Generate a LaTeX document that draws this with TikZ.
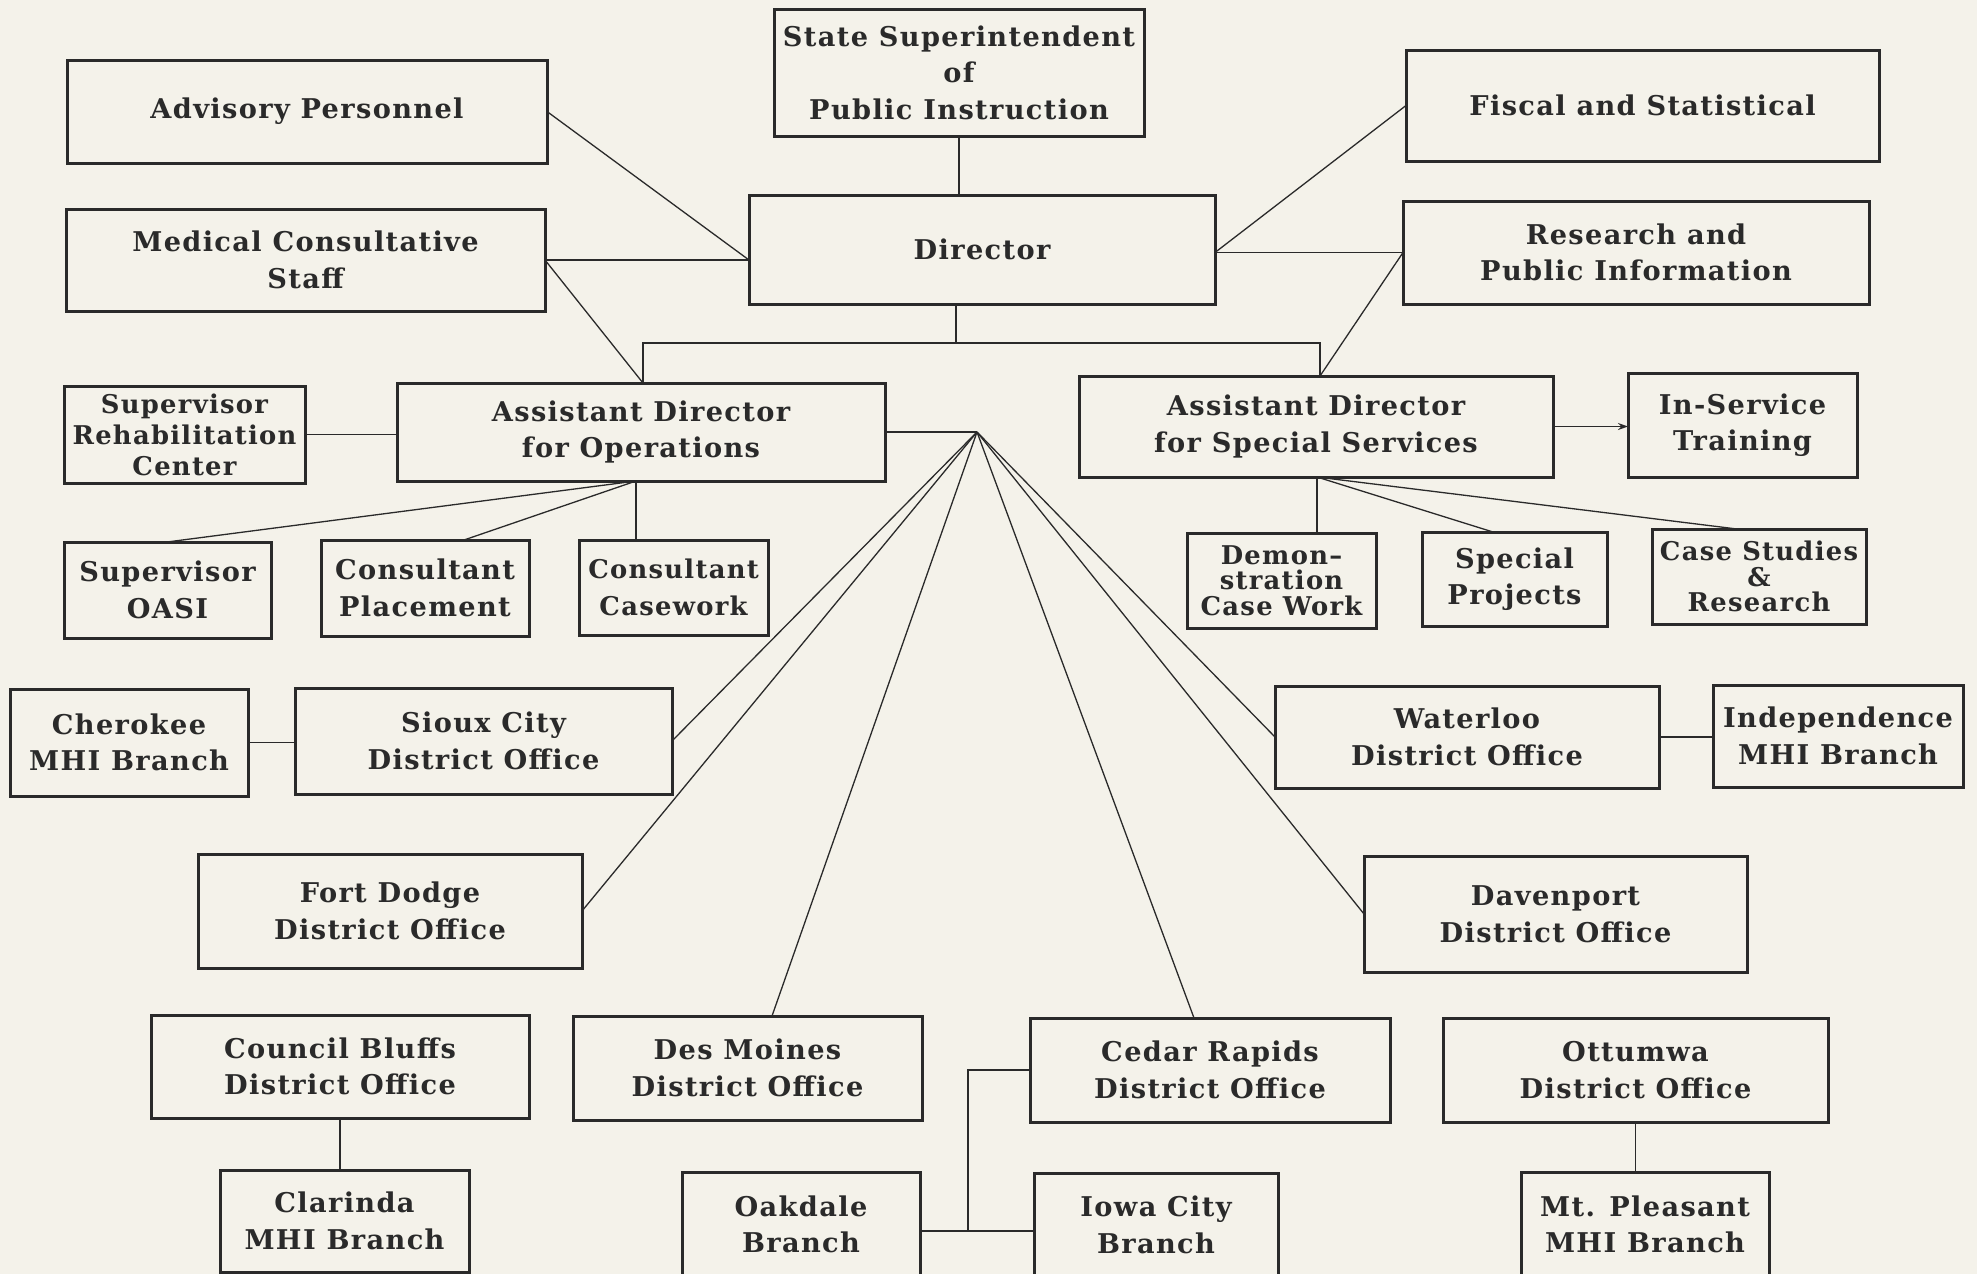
\documentclass[tikz,border=0pt]{standalone}
\usepackage{fontspec}
\setmainfont{DejaVu Serif}[LetterSpace=5]
\usetikzlibrary{arrows.meta}

\definecolor{paper}{HTML}{F4F2EA}
\definecolor{ink}{HTML}{2A2A2A}

\tikzset{
  obox/.style={draw=ink, line width=1.5pt, inner sep=0pt, outer sep=0pt,
    align=center, text=ink, font=\bfseries\fontsize{13.6}{18.3}\selectfont},
  link/.style={draw=ink, line width=0.65pt},
  tight/.style={font=\bfseries\fontsize{12.9}{15.5}\selectfont},
  tighter/.style={font=\bfseries\fontsize{12.9}{12.8}\selectfont},
}

% \obox[style]{name}{x1}{y1}{x2}{y2}{text}: a box given by its corners
\newcommand{\obox}[7][]{%
  \pgfmathsetmacro{\oboxw}{(#5-#3)*0.5}%
  \pgfmathsetmacro{\oboxh}{(#6-#4)*0.5}%
  \node[obox,#1,minimum width=\oboxw pt,minimum height=\oboxh pt]
    (#2) at ({(#3+#5)/2},{(#4+#6)/2}) {#7};}

\begin{document}
\begin{tikzpicture}[x=0.5pt,y=-0.5pt]
\path[use as bounding box, fill=paper] (0,0) rectangle (1977,1274);
\begin{scope}
\clip (0,0) rectangle (1977,1274);

% top level
\obox{ss}{774}{9}{1144}{136}{State Superintendent\\of\\Public Instruction}
\obox{adv}{67}{60}{547}{163}{Advisory Personnel}
\obox{med}{66}{209}{545}{311}{Medical Consultative\\Staff}
\obox{dir}{749}{195}{1215}{304}{Director}
\obox{fis}{1406}{50}{1879}{161}{Fiscal and Statistical}
\obox{res}{1403}{201}{1869}{304}{Research and\\Public Information}

% assistant directors and staff
\obox[tight]{rehab}{64}{386}{305}{483}{Supervisor\\Rehabilitation\\Center}
\obox{ops}{397}{383}{885}{481}{Assistant Director\\for Operations}
\obox{spec}{1079}{376}{1553}{477}{Assistant Director\\for Special Services}
\obox{insv}{1628}{373}{1857}{477}{In-Service\\Training}
\obox{oasi}{64}{542}{271}{638}{Supervisor\\OASI}
\obox{place}{321}{540}{529}{636}{Consultant\\Placement}
\obox[tight]{casew}{579}{540}{768}{635}{Consultant\\[2.8pt]Casework}
\obox[tighter]{demo}{1187}{533}{1376}{628}{Demon–\\stration\\Case Work}
\obox{proj}{1422}{532}{1607}{626}{Special\\Projects}
\obox[tighter]{cases}{1652}{529}{1866}{624}{Case Studies\\\&\\Research}

% district offices and branches
\obox{cher}{10}{689}{248}{796}{Cherokee\\MHI Branch}
\obox{sioux}{295}{688}{672}{794}{Sioux City\\District Office}
\obox{water}{1275}{686}{1659}{788}{Waterloo\\District Office}
\obox{indep}{1713}{685}{1963}{787}{Independence\\MHI Branch}
\obox{fort}{198}{854}{582}{968}{Fort Dodge\\District Office}
\obox{dav}{1364}{856}{1747}{972}{Davenport\\District Office}
\obox{cb}{151}{1015}{529}{1118}{Council Bluffs\\District Office}
\obox{dm}{573}{1016}{922}{1120}{Des Moines\\District Office}
\obox{cr}{1030}{1018}{1390}{1122}{Cedar Rapids\\District Office}
\obox{ott}{1443}{1018}{1828}{1122}{Ottumwa\\District Office}
\obox{clar}{220}{1170}{469}{1272}{Clarinda\\MHI Branch}
\obox{oak}{682}{1172}{920}{1277}{Oakdale\\Branch}
\obox{iowa}{1034}{1173}{1278}{1277}{Iowa City\\Branch}
\obox{mtp}{1521}{1172}{1769}{1277}{Mt. Pleasant\\MHI Branch}

% junction points
\coordinate (dirW) at (dir.west |- med.east);
\coordinate (dirE) at (dir.east |- res.west);
\coordinate (busL) at (643,343);
\coordinate (busM) at (956,343);
\coordinate (busR) at (1320,343);
\coordinate (opsB) at (636,481);
\coordinate (specB) at (1317,477);
\coordinate (hub) at (977,432);
\coordinate (crj) at (968,1231);

% chain of command at the top
\draw[link] (ss.south) -- (ss.south |- dir.north);
\draw[link] (adv.east) -- (dirW);
\draw[link] (med.east) -- (dirW);
\draw[link] (med.east) -- (busL |- ops.north);
\draw[link] (fis.west) -- (dirE);
\draw[link] (dirE) -- (res.west);
\draw[link] (res.west) -- (busR |- spec.north);
\draw[link] (busM |- dir.south) -- (busM);
\draw[link] (busL |- ops.north) -- (busL) -- (busR) -- (busR |- spec.north);

% staff under the assistant directors
\draw[link] (rehab.east) -- (rehab.east -| ops.west);
\draw[link] (opsB) -- (oasi.north -| 167,0);
\draw[link] (opsB) -- (place.north -| 464,0);
\draw[link] (opsB) -- (opsB |- casew.north);
\draw[link,-{Stealth[length=5pt,width=3.5pt]}] (spec.east) -- (spec.east -| insv.west);
\draw[link] (specB) -- (specB |- demo.north);
\draw[link] (specB) -- (proj.north -| 1493,0);
\draw[link] (specB) -- (cases.north -| 1737,0);

% district offices fanning out from operations
\draw[link] (ops.east |- hub) -- (hub);
\draw[link] (hub) -- (sioux.east);
\draw[link] (hub) -- (fort.east);
\draw[link] (hub) -- (dm.north -| 772,0);
\draw[link] (hub) -- (cr.north -| 1194,0);
\draw[link] (hub) -- (dav.west);
\draw[link] (hub) -- (water.west);

% branches
\draw[link] (cher.east) -- (cher.east -| sioux.west);
\draw[link] (water.east) -- (water.east -| indep.west);
\draw[link] (cb.south) -- (cb.south |- clar.north);
\draw[link] (ott.south) -- (ott.south |- mtp.north);
\draw[link] (cr.west) -- (cr.west -| crj) -- (crj);
\draw[link] (oak.east |- crj) -- (crj) -- (iowa.west |- crj);
\end{scope}
\end{tikzpicture}
\end{document}
